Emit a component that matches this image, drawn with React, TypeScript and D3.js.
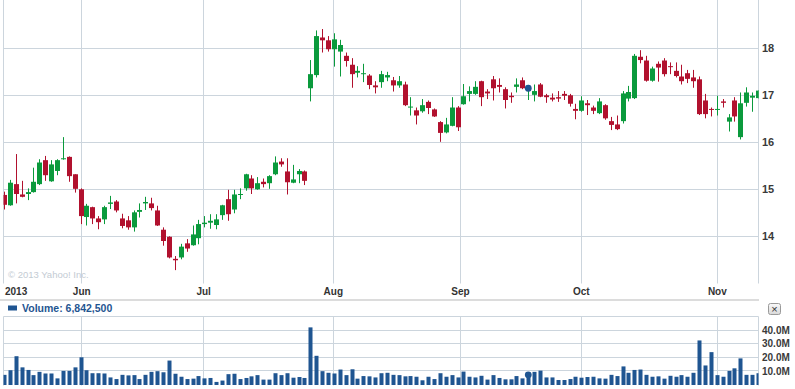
import React from 'react';
import * as d3 from 'd3';

// daily OHLC, mid May 2013 .. Nov 11 2013
const opens = [14.88, 14.66, 15.11, 14.89, 14.90, 14.94, 15.11, 15.62, 15.17, 15.39, 15.64, 15.69, 15.32, 15.00, 14.41, 14.62, 14.38, 14.36, 14.69, 14.74, 14.38, 14.34, 14.19, 14.52, 14.70, 14.70, 14.55, 14.14, 13.99, 13.52, 13.55, 13.85, 13.81, 13.96, 14.26, 14.29, 14.24, 14.45, 14.79, 14.57, 14.88, 15.02, 15.23, 15.00, 15.16, 15.13, 15.32, 15.59, 15.38, 15.14, 15.32, 15.38, 17.15, 17.43, 18.23, 18.17, 17.98, 17.93, 17.84, 17.65, 17.48, 17.45, 17.42, 17.21, 17.28, 17.38, 17.32, 17.21, 17.23, 16.74, 16.68, 16.66, 16.86, 16.70, 16.43, 16.21, 16.35, 16.74, 16.81, 17.03, 17.03, 17.30, 17.08, 17.34, 17.22, 17.13, 16.99, 17.18, 17.32, 17.09, 17.01, 17.23, 17.00, 16.95, 16.96, 17.03, 17.00, 16.71, 16.67, 16.83, 16.74, 16.62, 16.79, 16.45, 16.38, 16.45, 16.93, 16.94, 17.82, 17.74, 17.31, 17.67, 17.74, 17.62, 17.52, 17.40, 17.47, 17.38, 17.34, 16.89, 16.71, 16.69, 16.87, 16.44, 16.89, 16.11, 16.84, 16.95, 16.94];
const highs = [14.95, 15.20, 15.75, 15.18, 15.02, 15.46, 15.64, 15.71, 15.62, 15.64, 16.11, 15.70, 15.32, 15.02, 14.69, 14.63, 14.43, 14.65, 14.86, 14.77, 14.48, 14.43, 14.55, 14.70, 14.84, 14.82, 14.65, 14.19, 14.00, 13.58, 13.84, 13.94, 14.23, 14.35, 14.43, 14.47, 14.47, 14.67, 14.99, 14.99, 15.02, 15.33, 15.30, 15.26, 15.23, 15.30, 15.70, 15.66, 15.66, 15.52, 15.43, 15.40, 17.75, 18.38, 18.41, 18.26, 18.32, 18.18, 17.91, 17.79, 17.62, 17.67, 17.45, 17.30, 17.52, 17.50, 17.39, 17.41, 17.29, 16.96, 16.74, 16.92, 16.89, 16.72, 16.45, 16.52, 16.96, 16.77, 17.24, 17.19, 17.30, 17.31, 17.13, 17.41, 17.36, 17.17, 17.06, 17.36, 17.38, 17.22, 17.23, 17.26, 17.03, 17.04, 17.09, 17.09, 17.03, 16.82, 16.98, 16.90, 16.78, 16.94, 16.81, 16.54, 16.57, 17.09, 17.20, 17.88, 17.96, 17.84, 17.61, 17.72, 17.79, 17.70, 17.70, 17.65, 17.54, 17.54, 17.40, 17.03, 16.74, 16.99, 16.92, 16.60, 16.96, 17.06, 17.17, 17.06, 17.11];
const lows = [14.57, 14.65, 14.70, 14.83, 14.77, 14.93, 15.09, 15.18, 15.16, 15.30, 15.63, 15.16, 14.93, 14.26, 14.23, 14.26, 14.15, 14.26, 14.58, 14.51, 14.17, 14.14, 14.10, 14.40, 14.56, 14.55, 14.22, 13.80, 13.53, 13.28, 13.51, 13.67, 13.80, 13.83, 14.19, 14.16, 14.15, 14.35, 14.33, 14.49, 14.79, 14.97, 14.90, 14.99, 15.04, 15.01, 15.30, 15.48, 14.89, 15.13, 15.13, 15.09, 16.87, 17.38, 17.91, 17.93, 17.61, 17.40, 17.61, 17.16, 17.38, 17.28, 17.13, 17.04, 17.16, 17.30, 17.08, 17.16, 16.77, 16.57, 16.38, 16.63, 16.60, 16.54, 16.01, 16.19, 16.34, 16.24, 16.80, 16.87, 17.01, 16.77, 16.92, 16.89, 17.06, 16.72, 16.84, 17.06, 17.13, 16.90, 16.87, 16.96, 16.84, 16.87, 16.86, 16.90, 16.76, 16.49, 16.65, 16.58, 16.60, 16.60, 16.48, 16.26, 16.26, 16.40, 16.87, 16.92, 17.68, 17.29, 17.29, 17.29, 17.40, 17.45, 17.38, 17.23, 17.26, 17.16, 16.58, 16.51, 16.55, 16.57, 16.74, 16.23, 16.44, 16.06, 16.76, 16.65, 16.93];
const closes = [14.67, 15.14, 14.90, 14.84, 14.94, 15.16, 15.57, 15.30, 15.53, 15.62, 15.66, 15.28, 15.01, 14.43, 14.65, 14.38, 14.30, 14.62, 14.72, 14.55, 14.22, 14.19, 14.51, 14.56, 14.73, 14.60, 14.23, 13.90, 13.55, 13.49, 13.78, 13.74, 14.04, 14.26, 14.29, 14.33, 14.36, 14.66, 14.47, 14.89, 14.90, 15.32, 15.02, 15.13, 15.11, 15.28, 15.57, 15.53, 15.15, 15.21, 15.39, 15.18, 17.45, 18.26, 18.17, 17.98, 18.19, 18.07, 17.73, 17.45, 17.52, 17.47, 17.22, 17.17, 17.45, 17.43, 17.21, 17.30, 16.79, 16.76, 16.57, 16.79, 16.73, 16.55, 16.20, 16.38, 16.74, 16.32, 16.98, 17.09, 17.18, 16.96, 17.04, 17.15, 17.18, 16.90, 16.96, 17.23, 17.15, 17.15, 17.09, 16.97, 16.96, 16.91, 16.93, 16.99, 16.82, 16.67, 16.89, 16.79, 16.67, 16.87, 16.51, 16.37, 16.28, 17.04, 17.07, 17.84, 17.75, 17.31, 17.57, 17.59, 17.45, 17.60, 17.41, 17.30, 17.35, 17.30, 16.60, 16.60, 16.69, 16.71, 16.84, 16.53, 16.55, 16.83, 17.06, 16.99, 17.10];
// volume, millions of shares
const volumes = [7.1, 10.5, 20.8, 12.6, 10.7, 6.9, 9.3, 8.1, 8.1, 4.5, 10.0, 10.0, 12.6, 20.0, 10.5, 8.3, 8.3, 8.1, 5.2, 4.0, 7.1, 6.7, 6.9, 4.0, 7.1, 9.3, 9.8, 9.0, 17.6, 7.9, 5.7, 4.0, 4.3, 6.2, 4.5, 4.8, 1.9, 2.9, 7.6, 7.9, 4.0, 4.8, 6.0, 6.9, 3.6, 3.6, 8.3, 6.9, 8.3, 5.0, 5.5, 4.8, 42.0, 21.1, 9.8, 8.6, 8.1, 11.0, 6.9, 11.2, 4.3, 6.2, 6.0, 5.2, 8.3, 8.6, 7.1, 6.9, 6.0, 6.2, 5.7, 3.1, 5.7, 4.0, 8.3, 5.7, 6.9, 5.2, 9.5, 5.7, 5.2, 6.4, 3.6, 6.9, 4.8, 3.8, 3.8, 6.2, 4.5, 7.1, 9.3, 10.2, 5.2, 5.2, 3.3, 3.3, 4.0, 5.7, 5.0, 5.5, 5.7, 4.5, 4.3, 7.1, 6.2, 13.3, 8.6, 10.7, 11.0, 7.1, 5.7, 6.0, 4.3, 6.4, 5.7, 6.9, 5.7, 8.6, 32.4, 14.0, 23.8, 6.9, 5.7, 10.0, 11.9, 19.2, 7.1, 7.1, 8.3];

const monthLabels = ['Jun', 'Jul', 'Aug', 'Sep', 'Oct', 'Nov'];
const monthIndex = [13.2, 33.9, 55.9, 77.5, 98, 121.1];
const yearLabel = '2013';
const priceTicks = [14, 15, 16, 17, 18];
const volumeTicks = [10, 20, 30, 40];
const activeIndex = 89;
const volumeText = 'Volume: 6,842,500';

const UP = '#0a9a3c';
const DOWN = '#b1112e';
const BLUE = '#1f5591';
const GRID = '#ccd5dd';
const FONT = '"Liberation Sans", Arial, sans-serif';

const App: React.FC = () => {
  const left = 3.5, right = 758.5;
  const mainTop = 0, mainBottom = 283.5;
  const volTop = 316.5, volBottom = 384.5;

  const x = d3.scaleLinear().domain([0, opens.length - 1]).range([4, 758]);
  const y = d3.scaleLinear().domain([13, 19]).range([283.3, 1.3]);
  const yv = d3.scaleLinear().domain([0, 50]).range([volBottom, volTop]);

  const crisp = (v: number) => Math.round(v - 0.5) + 0.5;
  const bodyW = 5;
  const barW = 4;

  return (
    <svg width={795} height={389} style={{ position: 'absolute', left: 0, top: 0, background: '#fff' }}
      fontFamily={FONT}>
      <defs>
        <clipPath id="mainClip"><rect x={left} y={mainTop} width={right - left} height={mainBottom - mainTop} /></clipPath>
        <clipPath id="volClip"><rect x={left} y={volTop} width={right - left} height={volBottom - volTop + 1} /></clipPath>
        <linearGradient id="btn" x1="0" y1="0" x2="0" y2="1">
          <stop offset="0" stopColor="#fafafa" />
          <stop offset="1" stopColor="#d8d8d8" />
        </linearGradient>
      </defs>

      {/* main panel grid */}
      {priceTicks.map(t => (
        <line key={'pg' + t} x1={left} x2={right} y1={crisp(y(t))} y2={crisp(y(t))} stroke={GRID} />
      ))}
      {monthIndex.map((m, i) => (
        <line key={'mg' + i} x1={crisp(x(m))} x2={crisp(x(m))} y1={mainTop} y2={mainBottom} stroke={GRID} />
      ))}
      <line x1={left} x2={left} y1={mainTop} y2={mainBottom} stroke={GRID} />
      <line x1={right} x2={right} y1={mainTop} y2={mainBottom} stroke={GRID} />

      <text x={8} y={278} fontSize={9.5} fill="#c3cbd3">© 2013 Yahoo! Inc.</text>

      {/* candles */}
      <g clipPath="url(#mainClip)">
        {opens.map((o, i) => {
          const c = closes[i];
          const col = c >= o ? UP : DOWN;
          const cx = x(i);
          const top = y(Math.max(o, c));
          const h = Math.max(1, y(Math.min(o, c)) - top);
          return (
            <g key={'c' + i}>
              <line x1={Math.round(cx) + 0.5} x2={Math.round(cx) + 0.5} y1={y(highs[i])} y2={y(lows[i])} stroke={col} strokeWidth={1} />
              <rect x={Math.round(cx) + 0.5 - bodyW / 2} y={top} width={bodyW} height={h} fill={col} />
            </g>
          );
        })}
        <circle cx={x(activeIndex)} cy={y(closes[activeIndex])} r={3.4} fill={BLUE} />
      </g>

      <g right-axis="">
        {priceTicks.map(t => (
          <text key={'pt' + t} x={762} y={y(t)} dy="0.36em" fontSize={11} fontWeight="bold" fill="#3a3a3a">{t}</text>
        ))}
      </g>

      {/* x labels */}
      <text x={5} y={295} fontSize={10} fontWeight="bold" fill="#333">{yearLabel}</text>
      {monthLabels.map((m, i) => (
        <text key={'ml' + m} x={x(monthIndex[i])} y={295} fontSize={10} fontWeight="bold" fill="#333" textAnchor="middle">{m}</text>
      ))}

      <line x1={0} x2={759} y1={300} y2={300} stroke="#dcdcdc" strokeWidth={2} />

      {/* volume legend */}
      <rect x={8} y={305.5} width={9} height={5} fill={BLUE} />
      <text x={22} y={312} fontSize={10.5} fontWeight="bold" fill={BLUE}>{volumeText}</text>
      <rect x={768.5} y={303.5} width={12} height={11} rx={2} fill="url(#btn)" stroke="#9a9a9a" />
      <text x={774.5} y={312.5} fontSize={11} textAnchor="middle" fill="#333">×</text>

      {/* volume panel */}
      {[...volumeTicks, 50].map(t => (
        <line key={'vg' + t} x1={left} x2={right} y1={crisp(yv(t))} y2={crisp(yv(t))} stroke={GRID} />
      ))}
      {monthIndex.map((m, i) => (
        <line key={'vm' + i} x1={crisp(x(m))} x2={crisp(x(m))} y1={volTop} y2={volBottom + 1} stroke={GRID} />
      ))}
      <line x1={left} x2={left} y1={volTop} y2={volBottom + 1} stroke={GRID} />
      <line x1={right} x2={right} y1={volTop} y2={volBottom + 1} stroke={GRID} />
      <g clipPath="url(#volClip)">
        {volumes.map((v, i) => (
          <rect key={'v' + i} x={Math.round(x(i)) + 0.5 - barW / 2} y={yv(v)} width={barW} height={volBottom + 0.5 - yv(v)} fill={BLUE} />
        ))}
        <circle cx={x(activeIndex)} cy={yv(volumes[activeIndex])} r={3.4} fill={BLUE} />
      </g>
      {volumeTicks.map(t => (
        <text key={'vt' + t} x={762} y={yv(t)} dy="0.36em" fontSize={10} fontWeight="bold" fill="#3a3a3a">{t.toFixed(1)}M</text>
      ))}
    </svg>
  );
};

export default App;
